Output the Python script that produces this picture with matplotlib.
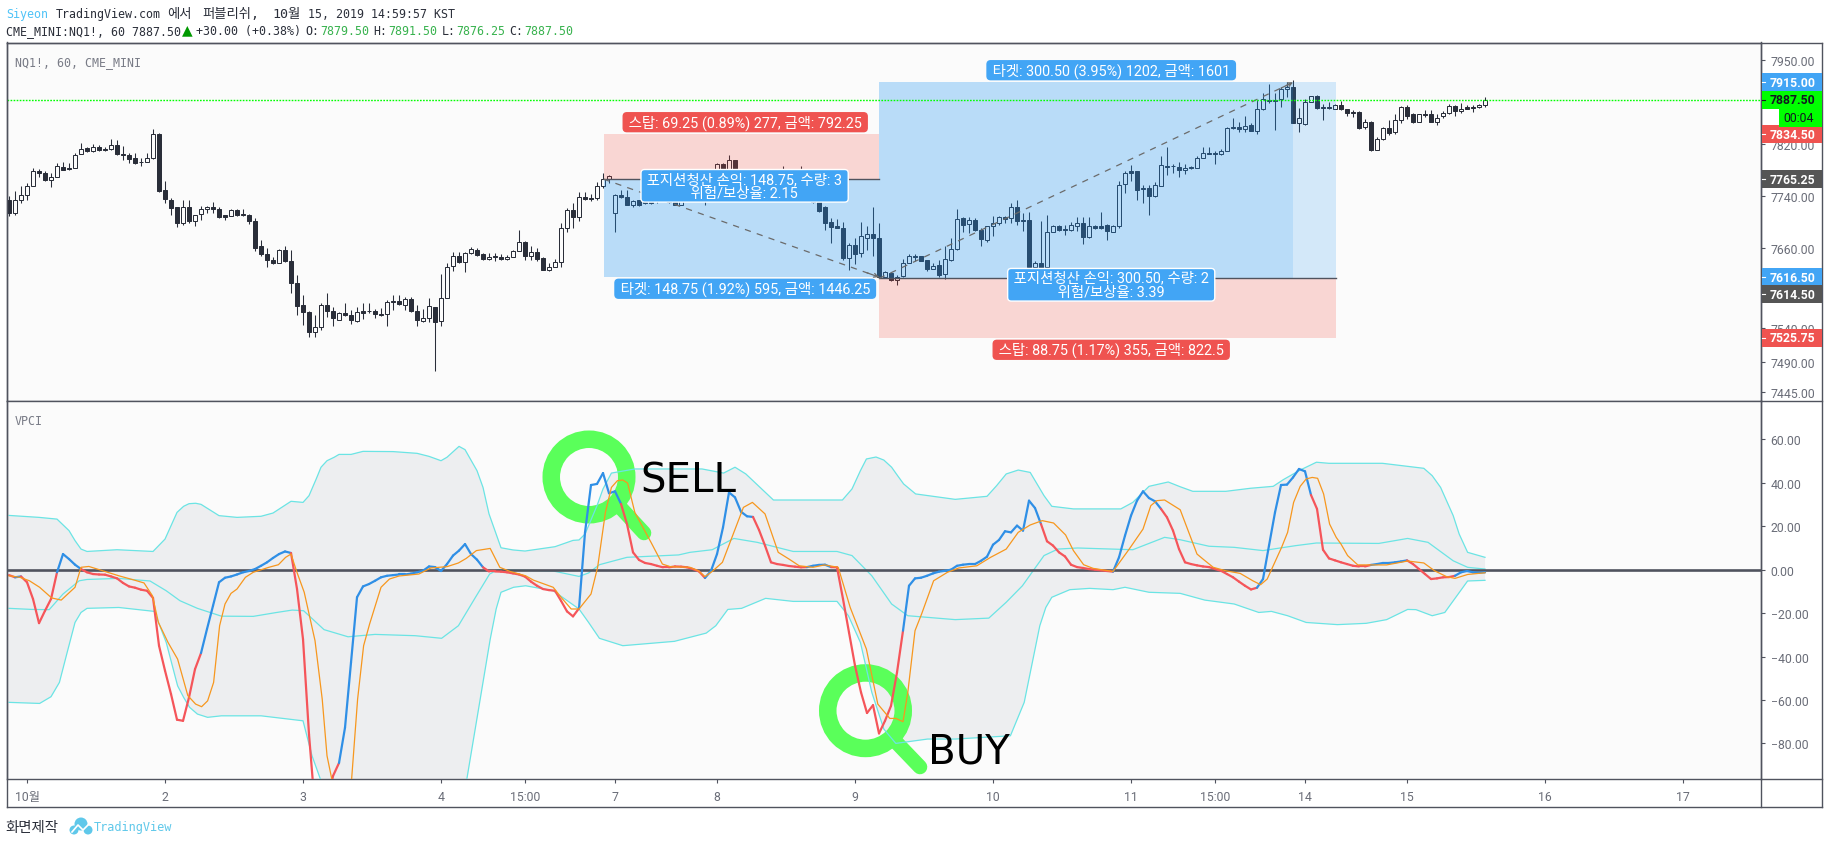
import numpy as np
import matplotlib
matplotlib.use("Agg")
import matplotlib.pyplot as plt
from matplotlib.patches import Circle, Rectangle
from matplotlib.transforms import IdentityTransform
from matplotlib.ticker import FixedLocator, NullFormatter, FuncFormatter

W, H = 1828, 845

# ---------- price data (hourly candles) ----------
opens = [7733,7714,7733,7741,7754,7777,7775,7764,7769,7784,
7783,7783,7804,7813,7808,7814,7812,7812,7818,7804,
7803,7797,7791.5,7792,7797,7835,7748,7734,7722,7699,
7723,7701,7712,7720,7723,7720,7710,7709,7718,7712,
7711,7702,7664,7652,7643,7638,7658,7641,7607,7574,
7564,7534,7542,7575,7566,7552,7563,7560,7551,7566,
7566,7566,7561,7561,7581,7581,7574,7583,7566,7551,
7555,7572,7551,7585,7633,7649,7639,7653,7658,7651,
7644,7648,7647,7644,7647,7656,7670,7648,7655,7646,
7627,7632,7639,7690,7718,7708,7738,7737,7736,7755,
7765,7714,7741,7738,7726,7733,7730,7731,7739,7734,
7737,7734,7726,7745,7754,7762,7750,7750,7773,7788,
7775,7794,7773,7762,7768,7760,7768,7763,7768,7762,
7778,7770,7762,7775,7760,7750,7723,7700,7693,7691,
7646,7665,7653,7676,7682,7675,7617,7622,7612,7618,
7638,7648,7648,7642,7629,7634,7621,7642,7659,7706,
7697,7703,7688,7672,7693,7698,7708,7706,7723,7703,
7703,7631,7638,7631,7685,7694,7689,7688,7694,7698,
7677,7694,7694,7695,7685,7693,7758,7777,7777,7751,
7751,7740,7755,7786,7786,7784,7780,7784,7783,7798,
7806,7806,7804,7808,7846,7846,7842,7848,7839,7873,
7888,7888,7889,7904,7907,7852,7850,7884,7894,7876,
7876,7874,7879,7873,7869,7869,7846,7854,7810,7827,
7844,7838,7857,7876,7865,7854,7865,7865,7854,7862,
7867,7878,7870,7876,7876,7876,7879.5]
closes = [7714,7734,7741,7754,7777,7775,7764,7769,7786,7780,
7781,7803,7812,7808,7815,7810,7810,7818,7804,7802,
7796,7790,7792,7798,7835,7747,7735,7720.5,7698,7723,
7701,7710,7720,7723,7720,7707,7707,7718,7711,7710,
7701,7661,7651,7642,7637,7658,7640,7608,7573,7564,
7534,7542,7575,7565,7555,7563,7559,7552,7564,7563,
7565,7561,7559,7579,7579,7576,7583,7565,7552,7555,
7573,7550,7585,7632,7649,7639,7653,7659,7650,7644,
7647,7647,7644,7647,7656,7670,7648,7654,7644,7627,
7632,7639,7691,7718,7707,7738,7735,7735,7755,7766,
7770,7741,7738,7726,7732,7726,7729,7729,7734,7739,
7730,7726,7745,7755,7762,7750,7740,7773,7788,7775,
7794,7770,7762,7768,7760,7768,7762,7768,7762,7778,
7768,7762,7775,7760,7730,7716,7698,7692,7691,7645,
7665,7652,7678,7682,7675,7617,7624,7612,7617,7638,
7648,7647,7641,7628,7633,7620,7644,7659,7705,7696,
7703,7688,7674,7693,7698,7707,7704,7723,7701,7702,
7631,7638,7630,7685,7694,7687,7688,7696,7698,7677,
7694,7691,7691,7686,7693,7757,7775,7775,7749,7750,
7740,7756,7787,7784,7785,7780,7783,7782,7798,7806,
7804,7804,7808,7844,7844,7843,7847,7839,7873,7889,
7886,7886,7904,7907,7852,7860,7884,7893,7875,7875,
7875,7879,7873,7867,7867,7844,7853,7810,7827,7844,
7836,7857,7876,7863,7854,7865,7864,7854,7860,7867,
7878,7870,7874,7874,7875,7879,7887.5]
highs = [7740,7747,7754,7759,7783,7781,7778,7775,7790,7792,
7790,7806,7821,7815,7819,7818,7815,7827,7826,7816,
7805,7805,7797,7806,7843,7836,7762,7736,7723,7733,
7734,7711,7724,7724,7731,7722,7711,7720,7720,7720,
7712,7706,7673,7661,7647,7659,7664,7657,7620,7590,
7565,7560,7578,7592,7572,7564,7577,7567,7571,7578,
7577,7568,7570,7582,7589,7589,7586,7586,7574,7568,
7585,7572,7621,7638,7655,7655,7655,7662,7660,7653,
7653,7653,7652,7650,7657,7687,7671,7663,7661,7647,
7638,7644,7699,7721,7729,7746,7746,7742,7761,7775,
7772,7742,7748,7749,7734,7734,7737,7735,7742,7745,
7740,7740,7747,7757,7765,7768,7752,7775,7790,7790,
7802,7795,7775,7770,7770,7770,7770,7770,7770,7785,
7780,7773,7786,7778,7762,7752,7724,7706,7704,7700,
7668,7676,7700,7694,7723,7698,7626,7624,7620,7644,
7651,7651,7649,7643,7638,7642,7663,7675,7720,7707,
7707,7706,7690,7694,7709,7709,7709,7729,7733,7714,
7715,7641,7702,7711,7696,7696,7696,7700,7707,7708,
7707,7696,7715,7697,7696,7762,7778,7787,7778,7757,
7756,7761,7800,7814,7788,7791,7788,7785,7800,7814,
7814,7808,7811,7846,7860,7853,7862,7851,7888,7898,
7912,7898,7907,7916,7918,7875,7889,7894,7895,7882,
7884,7882,7886,7874,7872,7871,7858,7855,7830,7846,
7856,7866,7878,7879,7867,7866,7872,7872,7865,7870,
7881,7880,7883,7879,7880,7881,7891.5]
lows = [7709,7711,7728,7733,7754,7768,7763,7753,7769,7779,
7780,7782,7804,7807,7807,7809,7809,7810,7803,7795,
7790,7789,7786,7791,7796,7746,7728,7711,7692,7695,
7698,7694,7703,7713,7714,7706,7703,7709,7709,7709,
7697,7656,7648,7632,7636,7637,7639,7592,7559,7545,
7527,7527,7538,7557,7543,7552,7558,7547,7550,7554,
7563,7556,7558,7544,7567,7574,7567,7564,7544,7550,
7550,7476,7544,7585,7626,7637,7624,7652,7649,7643,
7642,7641,7643,7642,7647,7656,7643,7643,7641,7627,
7625,7631,7631,7684,7691,7701,7734,7732,7734,7752,
7760,7685,7737,7726,7722,7724,7727,7727,7728,7732,
7728,7725,7725,7742,7750,7747,7725,7747,7770,7773,
7774,7769,7760,7760,7759,7759,7760,7761,7760,7760,
7765,7760,7760,7757,7729,7715,7687,7668,7690,7643,
7627,7636,7647,7658,7648,7616,7616,7610,7605,7617,
7637,7640,7640,7626,7628,7617,7613,7641,7658,7684,
7683,7686,7663,7670,7679,7695,7699,7699,7696,7686,
7630,7630,7629,7629,7684,7686,7680,7686,7686,7666,
7676,7689,7689,7672,7685,7691,7744,7762,7734,7729,
7710,7738,7754,7771,7774,7769,7773,7781,7782,7797,
7804,7788,7803,7808,7843,7838,7838,7839,7834,7872,
7883,7841,7877,7892,7852,7838,7849,7884,7873,7857,
7874,7873,7872,7863,7861,7843,7842,7808,7810,7825,
7833,7835,7852,7858,7852,7853,7861,7853,7849,7860,
7866,7863,7868,7874,7869,7875,7876.25]

# ---------- VPCI indicator ----------
vpci = [-2.5,-3.5,-3.1,-5.8,-13.5,-24.6,-18.9,-13.5,-1.2,7.2,
4.9,2.3,0.3,-1.2,-2,-2.2,-2.3,-3.1,-4,-6.1,
-7.7,-8.3,-9.2,-9.7,-13,-35,-46.5,-57.3,-69.1,-69.6,
-58.8,-45.8,-38.4,-27.3,-16.6,-5.8,-3.7,-3.1,-2.2,-1.2,
-0.6,0.3,1.8,3.4,5.4,7.2,8.4,7.7,-8.9,-32,
-75.9,-110,-112,-108,-95,-89,-72.7,-42.7,-12.7,-7.7,
-6.6,-5.1,-3.5,-2.8,-2.5,-2.2,-2.2,-1.8,-1.2,-0.5,
1.5,1.2,-0.6,2.6,6.5,8.8,11.8,7.2,4.6,1.1,
-0.8,-0.8,-0.9,-1.2,-1.7,-2.2,-3.2,-5.5,-7.4,-8.9,
-9.4,-9.7,-14.3,-19.2,-21.5,-17.8,17.2,39,39.5,44.5,
35.2,36.1,30.3,21,8,4.5,3.1,2.6,1.8,1.1,
1.1,1.5,1.4,1.1,0.3,-0.8,-3.8,-0.5,7.2,19.5,
35.6,33.3,26.7,24.6,24.3,18.3,11.1,3.4,2.6,2.2,
1.7,1.4,1.1,1.2,1.8,2.2,2.3,1.2,1.1,-13.5,
-28.9,-44.2,-56.5,-66,-62.4,-75.4,-69.6,-62.7,-47.3,-28.1,
-7.4,-4,-3.7,-2.8,-1.7,-0.9,-0.5,0,1.8,2.3,
2.6,2.6,4.1,6,11.5,13.7,17.7,17.2,20.3,18,
31.8,28.4,21,13.1,11.1,8,6.1,2.3,1.2,0.8,
0.3,0,-0.3,-0.6,-0.9,5.7,15.7,24.9,31.8,36.1,
33,31.5,28,24.1,18,9.5,3.4,2.6,2,1.5,
1.2,0.3,-0.5,-2,-3.5,-5.5,-7.4,-9.1,-8.3,-4.3,
11.1,26.4,39,39.2,42.5,46.4,45.3,34.4,28,9.2,
5.2,4.3,3.4,2.6,1.8,1.5,1.5,2.2,2.6,3.1,
3.1,3.4,3.8,4.3,2.6,0.3,-2,-4.3,-4,-3.5,
-3.4,-2.8,-1.2,-0.6,-1.2,-1.4,-1.2]
vpci_blue_spans = [(1,2),(8,12),(32,47),(55,79),(95,102),(116,124),(133,137),
                   (149,172),(184,192),(208,217),(227,233),(241,246)]

signal_x = [0,1.8,3.4,5.1,7.1,8.7,11,12,13.3,15.6,18.3,20.9,22.5,23.9,24.9,26.5,28.1,29.8,31.1,32.1,
33.1,34.1,35.1,36,37,38,39.4,40.7,43.3,44.9,46.1,47,47.9,49.2,51,52.2,53,53.8,54.5,55.5,
57.1,58.1,59.1,60.1,62,63.4,65,68.3,70.3,73,74.9,76.2,77.9,80.2,81.8,83.5,86.1,87.4,90.7,92,
93.7,95,97,98.1,99.4,100.4,101.4,102.3,103.1,104.3,107,108.9,110.2,113.5,114.9,116,117.2,118.9,120.8,122.4,
123.9,126,128.2,130,131.7,134,135.9,138.2,140.2,142.9,144.8,146.8,147.8,149,149.8,151,152.1,154.1,156.4,158.3,
161.3,163.6,166.2,168.2,170.2,172.2,174.1,176.1,177.4,179.1,180.7,184,186.7,189,190.3,191.3,192.6,195.2,196.2,198,
199,200.7,202.8,205.2,207.3,208.6,209.7,212.1,213.1,214.1,215.2,216.2,217.2,218.1,219.1,220.1,221.2,222,223.1,224.8,
229.6,233.1,235.8,237.6,239.6,241,243.1,246]
signal_y = [-2.8,-3.5,-5.1,-8.1,-13,-14,-8.1,1.1,1.5,-0.5,-2.8,-4.8,-6.1,-12,-24.3,-33.5,-41.2,-58,-61.9,-63.1,
-60.4,-51.9,-25.8,-15.8,-10.9,-8.9,-3.5,-1.2,1.1,2.3,5.7,7.2,-0.5,-10.4,-32.7,-59.6,-85.7,-96.5,-102,-110,
-96.5,-59.6,-35,-25,-8.1,-4.3,-2.9,-2,0.8,1.4,3.1,5.2,8.8,9.8,1.1,-0.8,-2.8,-4.8,-8.1,-12.7,
-18.1,-18.1,-11.2,1.1,26.4,37.9,41,41.3,39.9,26.4,12.6,2.6,1.4,1.1,-0.5,-3.2,-0.8,3.4,17.2,28.7,
31,25.7,8,4.9,1.8,1.1,2.2,1.1,-17.4,-36.6,-61.9,-68.5,-68.5,-70,-56.5,-28.1,-20.4,-5.1,-1.2,0.8,
1.8,5.7,9.5,17.2,20.6,22.6,21.5,16,8.8,2.3,0.6,-0.8,9.5,18.7,29.5,31.8,32.1,27.6,20.3,7.2,
4.9,1.1,-0.5,-1.7,-5.1,-6.9,-4.3,10.3,17.2,31,38.4,41.8,42.5,42.1,34.9,21,14.9,11.8,6.5,2.2,
2.2,4,3.1,-0.5,-3.2,-4,-2.2,-1.4]

upper_x = [0,5,8,10,11,12,13,18,24,26,28,29.1,30,31.1,32,35,38,42,44,47,49,50,51.2,52,53,54.2,55,57,59,64,68,70,72,73,75,
76,78,79,80,82,84,86,91,94,95,96,98,99,100.4,104.3,115.5,119.1,121,122.8,127.4,138.9,140.5,141.9,142.9,144.5,145.8,147.1,148.1,149.1,151.1,157.7,163,164.6,166.2,
168.2,170.2,172.5,173.8,177.4,185.3,187.3,190,193.2,195.2,197.3,202.8,206.9,210.7,212.4,215.2,217.9,220,228.9,233.1,235.8,237.2,238.6,240.7,241.7,243.1,246]
upper_y = [25,24.1,23.3,18,13.4,9.5,8.4,9.2,8.4,14.1,26.4,29.2,30.4,30.6,30.1,24.9,24.1,24.6,26.1,31.5,31,34.1,41.8,47.2,50.2,51.8,53.1,53.1,54.5,54.4,53.6,52.2,50.2,51.8,56.8,
55.3,45.6,37.9,25.7,10.1,9.1,8.6,10.6,13.5,13.7,16.4,29.5,37.2,44.5,46.4,46.4,44.5,47.2,44.1,32.1,32.1,37.2,45.6,51,51.9,50.5,47.2,43.3,39.5,34.9,32.4,33.8,38.7,44.1,
45.9,44.8,34.1,29.2,28,28,31,38.4,40.4,38.2,36.1,36.1,37.5,38.4,41.5,45.9,49.5,49,49,47.6,46.7,43.3,37.9,24.9,16.4,8,5.7]

mid_x = [0,3.8,6.7,9,11.7,13,18.3,23.5,26.2,28.5,31.4,35.4,40.7,44.6,47.2,49.1,52.5,56.5,61,67.7,72.1,74.9,77.9,80.1,81.5,90.7,95,96.6,98.4,103,
111.6,113.5,117.2,120.8,124.7,130.7,138,140.5,143.8,147.1,149.8,157.7,163.3,166.2,168.9,172.5,174.8,178.1,187.3,192.6,195.2,200,204.2,209,214.5,217.9,228.3,233.1,236.5,240.7,243.1,246]
mid_y = [-17.8,-18.3,-18.4,-11.2,-5.1,-4.5,-4,-5.2,-9.7,-14.3,-17.8,-21.4,-21.5,-19.7,-18.6,-18.9,-27.6,-30.9,-29.8,-30.4,-31.6,-25.8,-12,-2,0,-0.6,-3.1,-1.5,2.3,5.7,
6.8,8,9.2,14.4,12.6,8.4,8.4,6.5,-2.8,-15.8,-21.2,-23,-22.3,-15,-7.4,6.5,9.5,10,9.2,14.9,13.8,10.8,10.3,8.8,11.1,12.3,12.1,14.4,12.6,4.1,1.1,0.3]

lower_x = [0,5.1,7,8.4,9.7,11,12,13,18.3,24.2,26.2,28.1,29.1,30.1,31.4,33.1,35.4,42,49,50.5,51.9,54,60,70,74,76.3,78.9,80.2,81.2,82,84.1,86.1,90.7,95,96.6,98.4,
102.3,110.9,116.2,117.8,119.8,122.1,126.1,130.7,138,139.9,141.9,143.8,145.8,147.8,153.1,157.7,166.9,169.2,171.8,172.8,173.8,176.8,180.1,184,186,190,195.2,199.3,204.2,208.3,210.4,
213.1,216.2,221.4,226.2,229.6,233.1,234.5,237.2,239.3,243.1,246]
lower_y = [-61.1,-61.6,-58.5,-51.9,-38,-24.3,-19.7,-17.8,-17.4,-19.2,-33.5,-53.5,-58.8,-63.4,-66.5,-68,-67.3,-67.3,-69.6,-85.7,-96.5,-110,-118,-115,-108,-96.5,-53.5,-32,-18,-10.4,-8.1,-7.4,-9.7,-18.1,-24.3,-31.6,
-35,-33,-29.2,-25.8,-18.3,-17.8,-13.2,-14.6,-14.6,-21.2,-33.5,-56.5,-73.4,-80,-78,-78,-76.5,-61.1,-25.8,-17.4,-12.7,-9.2,-8.6,-9.2,-8.1,-10.4,-10.9,-14,-15.8,-19.7,-19.2,
-21.2,-24.3,-25.3,-24.7,-23,-18.3,-18.4,-21.2,-19.7,-5.2,-4.9]

# ---------- axis labels ----------
time_ticks = [3,26,49,72,86,101,118,141,164,187,201,216,233,256,279]
time_labels = ["10월","2","3","4","15:00","7","8","9","10","11","15:00","14","15","16","17"]
price_ticks = [7950,7820,7740,7660,7540,7490,7445]
vpci_ticks = [60,40,20,0,-20,-40,-60,-80]

# (value, colour, text colour, pixel shift)
price_tags = [(7915,"#42a5f5","white",0),(7887.5,"#00ff00","#131722",0),(7834.5,"#ef5350","white",0),
              (7765.25,"#555555","white",0),(7616.5,"#42a5f5","white",0),(7614.5,"#555555","white",16),
              (7525.75,"#ef5350","white",0)]

BG = "#fbfbfb"; BORDER = "#50535e"; DARK = "#2a2e39"; GREY = "#6a6d78"
UI = ["Roboto", "Noto Sans CJK KR", "DejaVu Sans"]
MONO = ["DejaVu Sans Mono", "Noto Sans CJK KR"]
BLUE = "#42a5f5"; RED = "#ef5350"; CYAN = "#6be4e4"; ORANGE = "#f7971e"; RING = "#5aff5a"

fig = plt.figure(figsize=(W/100, H/100), dpi=100, facecolor="white")

def axes_px(x0, y0, x1, y1):
    return fig.add_axes([x0/W, 1-y1/H, (x1-x0)/W, (y1-y0)/H])

ax1 = axes_px(6.5, 43.5, 1761, 402)
ax2 = axes_px(6.5, 402, 1761, 780)
for ax in (ax1, ax2):
    ax.set_facecolor(BG)
    for s in ax.spines.values():
        s.set_color(BORDER); s.set_linewidth(1.0)

# ---------- candles ----------
idx = np.arange(len(opens))
o, h, l, c = map(np.array, (opens, highs, lows, closes))
up = c >= o
ax1.vlines(idx, l, h, color=DARK, lw=0.75, zorder=2)
body_lo = np.minimum(o, c); body_hi = np.maximum(o, c)
ax1.bar(idx[up], body_hi[up]-body_lo[up], bottom=body_lo[up], width=0.68,
        facecolor=BG, edgecolor=DARK, linewidth=0.72, zorder=3)
ax1.bar(idx[~up], body_hi[~up]-body_lo[~up], bottom=body_lo[~up], width=0.68,
        facecolor=DARK, edgecolor=DARK, linewidth=0.72, zorder=3)

# ---------- position tools ----------
short_x = (99.1, 145.0); short_entry, short_stop, short_target = 7765.25, 7834.5, 7616.5
long_x = (145.0, 221.2); long_close_x = 214.0; long_entry, long_stop, long_target = 7614.5, 7525.75, 7915

def zone(x0, x1, p0, p1, col, a):
    ax1.fill_between([x0, x1], [p0, p0], [p1, p1], color=col, alpha=a, lw=0, zorder=4)

zone(*short_x, short_entry, short_stop, "#f44336", .2)
zone(*short_x, short_entry, short_target, "#2196f3", .3)
zone(*long_x, long_entry, long_stop, "#f44336", .2)
zone(long_x[0], long_close_x, long_entry, long_target, "#2196f3", .3)
zone(long_close_x, long_x[1], long_entry, long_target, "#2196f3", .18)
ax1.plot(short_x, [short_entry]*2, color="#50535e", lw=1, zorder=5)
ax1.plot(long_x, [long_entry]*2, color="#50535e", lw=1, zorder=5)
ax1.plot([short_x[0], short_x[1]], [short_entry, short_target], color="#6b6b6b", lw=0.9,
         dashes=(5, 5), zorder=5)
ax1.plot([long_x[0], long_close_x], [long_entry, long_target], color="#6b6b6b", lw=0.9,
         dashes=(5, 5), zorder=5)
for tip, tail in [((short_x[1], short_target), (143.0, 7623)), ((long_close_x, long_target), (212.0, 7906))]:
    ax1.annotate("", xy=tip, xytext=tail, zorder=5,
                 arrowprops=dict(arrowstyle="->", color="#6b6b6b", lw=0.9, mutation_scale=7,
                                 shrinkA=0, shrinkB=0))

ax1.axhline(7887.5, color="#00ff00", lw=1.0, ls=(0, (1.2, 1.0)), zorder=6)

NB = "\u00a0"
def tag(x, p, lines, col, border=None):
    text = "\n".join(NB + s + NB for s in lines)
    two = len(lines) > 1
    ax1.text(x, p, text, color="white", fontsize=10.4, family=UI, ha="center", va="center",
             linespacing=1.0 if two else 0.9, zorder=8,
             bbox=dict(boxstyle=f"round,pad={0.16 if two else 0.12},rounding_size=0.25", fc=col,
                       ec=border or col, lw=1.0))

tag(122.7, 7853, ["스탑: 69.25 (0.89%) 277, 금액: 792.25"], RED)
tag(122.6, 7755, ["포지션청산 손익: 148.75, 수량: 3", "위험/보상율: 2.15"], BLUE, "white")
tag(122.7, 7599, ["타겟: 148.75 (1.92%) 595, 금액: 1446.25"], BLUE)
tag(183.7, 7934, ["타겟: 300.50 (3.95%) 1202, 금액: 1601"], BLUE)
tag(183.7, 7508, ["스탑: 88.75 (1.17%) 355, 금액: 822.5"], RED)
tag(183.7, 7605, ["포지션청산 손익: 300.50, 수량: 2", "위험/보상율: 3.39"], BLUE, "white")

ax1.set_yscale("log")
ax1.set_xlim(-0.42, 292)
ax1.set_ylim(7432.5, 7977.5)
ax1.xaxis.set_visible(False)
ax1.yaxis.tick_right()
ax1.yaxis.set_major_locator(FixedLocator(price_ticks))
ax1.yaxis.set_minor_locator(FixedLocator([]))
ax1.yaxis.set_major_formatter(FuncFormatter(lambda v, _: f"{v:.2f}"))
ax1.yaxis.set_minor_formatter(NullFormatter())
ax1.tick_params(axis="y", length=3, width=0.8, color=BORDER, labelcolor=GREY, labelsize=8.8, pad=4)
for t in ax1.get_yticklabels():
    t.set_family(UI)

# ---------- indicator ----------
ax2.fill(np.r_[upper_x, lower_x[::-1]], np.r_[upper_y, lower_y[::-1]], color="#edeef0", lw=0, zorder=1)

ident = IdentityTransform()
rings = [((589, 478), ((619, 507), (644, 534))), ((865.5, 711.7), ((896, 743), (920, 768)))]
for (cx, cy), (a, b) in rings:
    ax2.add_patch(Circle((cx, H-cy), 37.75, transform=ident, fill=False, ec=RING, lw=12.6, zorder=2))
    ax2.plot([a[0], b[0]], [H-a[1], H-b[1]], transform=ident, color=RING, lw=10.5,
             solid_capstyle="round", zorder=2)

ax2.plot(upper_x, upper_y, color=CYAN, lw=0.9, zorder=3)
ax2.plot(mid_x, mid_y, color=CYAN, lw=0.9, zorder=3)
ax2.plot(lower_x, lower_y, color=CYAN, lw=0.9, zorder=3)
ax2.axhline(0, color=BORDER, lw=1.9, zorder=3)

vx = np.arange(len(vpci)); vy = np.array(vpci)
for i in range(len(vpci)-1):
    is_blue = any(a <= i < b for a, b in vpci_blue_spans)
    ax2.plot(vx[i:i+2], vy[i:i+2], color="#2f8fe6" if is_blue else "#f5555a", lw=1.6,
             solid_capstyle="round", zorder=4)
ax2.plot(signal_x, signal_y, color=ORANGE, lw=0.9, zorder=5)

ax2.text(640, H-492.5, "SELL", transform=ident, fontsize=29, color="black", family="DejaVu Sans",
         ha="left", va="baseline", zorder=6)
ax2.text(928, H-763.5, "BUY", transform=ident, fontsize=29, color="black", family="DejaVu Sans",
         ha="left", va="baseline", zorder=6)

ax2.set_xlim(-0.42, 292)
ax2.set_ylim(-96.4, 77.7)
ax2.yaxis.tick_right()
ax2.set_yticks(vpci_ticks)
ax2.yaxis.set_major_formatter(FuncFormatter(lambda v, _: f"{v:.2f}".replace("-", "\u2212")))
ax2.tick_params(axis="y", length=3, width=0.8, color=BORDER, labelcolor=GREY, labelsize=8.8, pad=4)
ax2.set_xticks(time_ticks)
ax2.set_xticklabels(time_labels)
ax2.tick_params(axis="x", length=3, width=0.8, color=BORDER, labelcolor=GREY, labelsize=8.8, pad=5)
for t in ax2.get_yticklabels() + ax2.get_xticklabels():
    t.set_family(UI)

# ---------- frame and figure level text ----------
def fx(x): return x/W
def fy(y): return 1-y/H

def frame(xs, ys):
    fig.add_artist(plt.Line2D([fx(v) for v in xs], [fy(v) for v in ys], color=BORDER, lw=1.0, zorder=3))

frame([6.5, 1822], [43.5, 43.5])
frame([1822, 1822], [43.5, 808])
frame([6.5, 1822], [808, 808])
frame([6.5, 6.5], [43.5, 808])
frame([1761, 1761], [43.5, 808])
frame([1761, 1822], [402, 402])
frame([1761, 1822], [780, 780])

def ftext(x, y, s, color="#131722", size=8.4, fam=None, ha="left", **kw):
    fig.text(fx(x), fy(y), s, color=color, fontsize=size, family=fam or MONO, ha=ha, va="center",
             zorder=10, **kw)

ftext(15, 62.7, "NQ1!, 60, CME_MINI", color="#787b86")
ftext(15, 421.7, "VPCI", color="#787b86")
ftext(6.3, 14.5, "Siyeon", color="#4fc3f7")
ftext(55.3, 14.5, "TradingView.com", color="#2a2e39")
ftext(166.8, 14.5, "에서", color="#2a2e39", size=9.6)
ftext(202.4, 14.5, "퍼블리쉬,", color="#2a2e39", size=9.6)
ftext(272.7, 14.5, "10월", color="#2a2e39", size=9.6)
ftext(307.5, 14.5, "15, 2019 14:59:57 KST", color="#2a2e39")
ftext(6.3, 31.7, "CME_MINI:NQ1!, 60 7887.50", color="#2a2e39")
ftext(187, 30.5, "▲", color="#009900", size=10, fam=["DejaVu Sans"], ha="center")
ftext(196.4, 31.7, "+30.00 (+0.38%)", color="#2a2e39")
GREEN = "#37b24d"
for lx, label, vx_, val in [(305.5, "O:", 320, "7879.50"), (373.5, "H:", 388.5, "7891.50"),
                            (441.5, "L:", 456.5, "7876.25"), (509.5, "C:", 524.5, "7887.50")]:
    ftext(lx, 31.7, label, color="#2a2e39")
    ftext(vx_, 31.7, val, color=GREEN)

# price tags on the scale
fig.canvas.draw()
for price, col, tcol, shift in price_tags:
    yd = ax1.transData.transform((0, price))[1]
    y = H - yd + shift
    fig.add_artist(Rectangle((fx(1761.5), fy(y+9)), (1821.5-1761.5)/W, 18/H, transform=fig.transFigure,
                             fc=col, ec="none", zorder=5))
    fig.add_artist(plt.Line2D([fx(1761.5), fx(1765)], [fy(y), fy(y)], color="white" if tcol == "white" else "#131722",
                              lw=0.8, zorder=6))
    ftext(1770, y, f"{price:.2f}", color=tcol, size=8.8, fam=UI, fontweight="bold")
fig.add_artist(Rectangle((fx(1779), fy(128)), (1821.5-1779)/W, 18/H, transform=fig.transFigure,
                         fc="#00ff00", ec="none", zorder=5))
ftext(1783, 119, "00:04", color="#131722", size=8.8, fam=UI)

# footer
ftext(5.5, 828, "화면제작", color="#2a2e39", size=10.4, fam=["Noto Sans CJK KR"])
ftext(93.7, 828, "TradingView", color="#5fc8ea", size=8.6)
for cx, cy, r in [(74, 831, 4.5), (81, 825, 6.5), (88, 831, 4.5)]:
    fig.add_artist(Circle((cx, H-cy), r, transform=ident, fc="#5fc8ea", ec="none", zorder=6))
fig.add_artist(plt.Line2D([fx(72), fx(78), fx(83), fx(90)], [fy(833), fy(826), fy(831), fy(824)],
                          color="white", lw=1.2, zorder=7))

fig.savefig("out.png", dpi=100, facecolor="white")
